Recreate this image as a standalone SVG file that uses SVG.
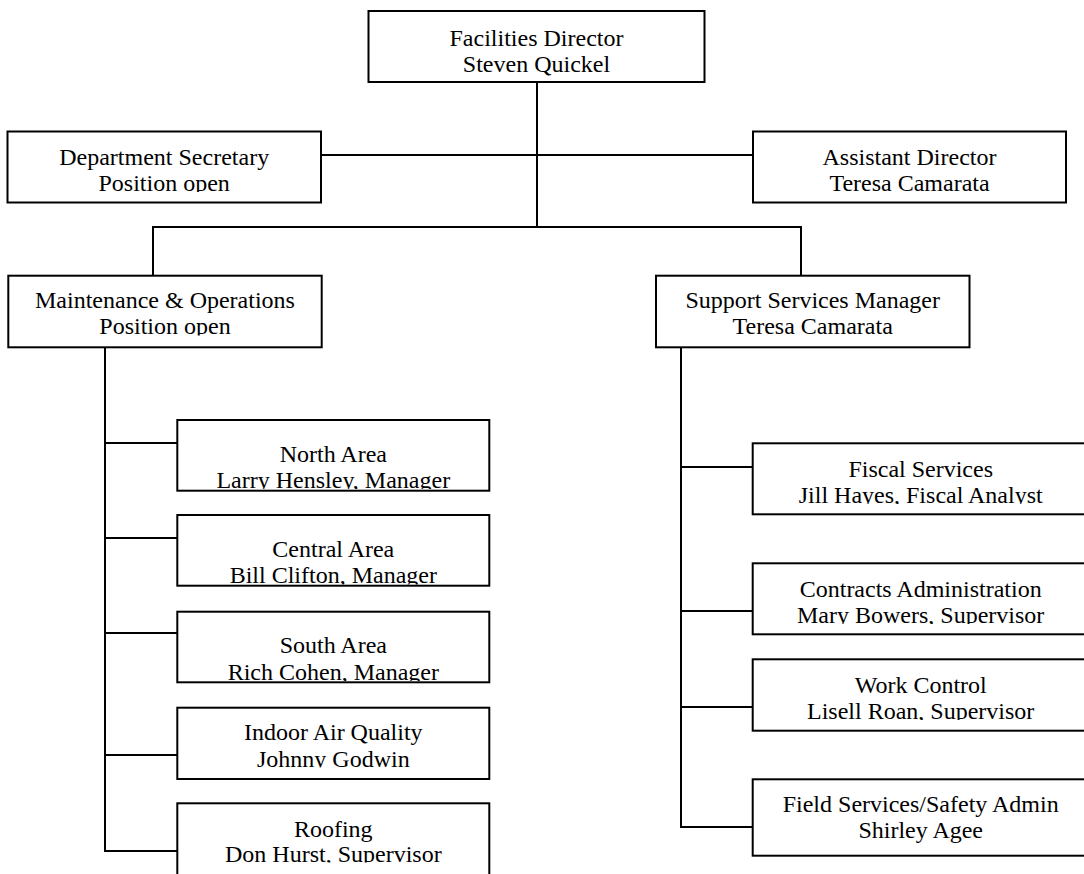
<svg xmlns="http://www.w3.org/2000/svg" width="1084" height="874" viewBox="0 0 1084 874">
<style>
.box{fill:#fff;stroke:#000;stroke-width:2}
.t{font-family:"Liberation Serif","Times New Roman",serif;font-size:24px;text-anchor:middle;fill:#000}
.c{stroke:#000;stroke-width:2;fill:none}
</style>
<defs>
<clipPath id="cp-dept"><rect x="8" y="132" width="312" height="60"/></clipPath>
<clipPath id="cp-maint"><rect x="9" y="276" width="312" height="59.5"/></clipPath>
<clipPath id="cp-north"><rect x="178" y="421" width="311" height="68"/></clipPath>
<clipPath id="cp-central"><rect x="178" y="516" width="311" height="68.5"/></clipPath>
<clipPath id="cp-south"><rect x="178" y="612" width="311" height="69"/></clipPath>
<clipPath id="cp-indoor"><rect x="178" y="708" width="311" height="59.5"/></clipPath>
<clipPath id="cp-roof"><rect x="178" y="804" width="311" height="58.5"/></clipPath>
<clipPath id="cp-fiscal"><rect x="753" y="444" width="336" height="60"/></clipPath>
<clipPath id="cp-contracts"><rect x="753" y="564" width="336" height="60"/></clipPath>
<clipPath id="cp-work"><rect x="753" y="660" width="336" height="60"/></clipPath>
</defs>
<rect width="1084" height="874" fill="#fff"/>
<g id="connectors">
<line class="c" x1="537" y1="82" x2="537" y2="227"/>
<line class="c" x1="321" y1="155" x2="753" y2="155"/>
<line class="c" x1="153" y1="227" x2="801" y2="227"/>
<line class="c" x1="153" y1="226" x2="153" y2="276"/>
<line class="c" x1="801" y1="226" x2="801" y2="276"/>
<polyline class="c" points="105,347 105,851 177,851"/>
<line class="c" x1="105" y1="443" x2="177" y2="443"/>
<line class="c" x1="105" y1="538" x2="177" y2="538"/>
<line class="c" x1="105" y1="633" x2="177" y2="633"/>
<line class="c" x1="105" y1="755" x2="177" y2="755"/>
<polyline class="c" points="681,347 681,827 753,827"/>
<line class="c" x1="681" y1="467" x2="753" y2="467"/>
<line class="c" x1="681" y1="611" x2="753" y2="611"/>
<line class="c" x1="681" y1="707" x2="753" y2="707"/>
</g>
<g id="director">
<rect class="box" x="368.5" y="11" width="336" height="71"/>
<text class="t" x="536.5" y="45.7">Facilities Director</text>
<text class="t" x="536.5" y="71.8">Steven Quickel</text>
</g>
<g id="secretary">
<rect class="box" x="7.5" y="131.5" width="313.5" height="71"/>
<g clip-path="url(#cp-dept)">
<text class="t" x="164.2" y="165">Department Secretary</text>
<text class="t" x="164.2" y="191.3">Position open</text>
</g>
</g>
<g id="assistant">
<rect class="box" x="753" y="131.5" width="313" height="71"/>
<text class="t" x="909.5" y="165">Assistant Director</text>
<text class="t" x="909.5" y="191.3">Teresa Camarata</text>
</g>
<g id="maintenance">
<rect class="box" x="8.3" y="275.7" width="313.4" height="71.6"/>
<g clip-path="url(#cp-maint)">
<text class="t" x="165" y="307.7">Maintenance &amp; Operations</text>
<text class="t" x="165" y="334.3">Position open</text>
</g>
</g>
<g id="support">
<rect class="box" x="656" y="275.7" width="313.5" height="71.6"/>
<text class="t" x="812.7" y="307.7">Support Services Manager</text>
<text class="t" x="812.7" y="334.3">Teresa Camarata</text>
</g>
<g id="north">
<rect class="box" x="177.3" y="420" width="312" height="70.7"/>
<g clip-path="url(#cp-north)">
<text class="t" x="333.3" y="461.7">North Area</text>
<text class="t" x="333.3" y="488.3">Larry Hensley, Manager</text>
</g>
</g>
<g id="central">
<rect class="box" x="177.3" y="515" width="312" height="70.7"/>
<g clip-path="url(#cp-central)">
<text class="t" x="333.3" y="556.7">Central Area</text>
<text class="t" x="333.3" y="583.3">Bill Clifton, Manager</text>
</g>
</g>
<g id="south">
<rect class="box" x="177.3" y="611.7" width="312" height="70.6"/>
<g clip-path="url(#cp-south)">
<text class="t" x="333.3" y="653.3">South Area</text>
<text class="t" x="333.3" y="680">Rich Cohen, Manager</text>
</g>
</g>
<g id="indoor">
<rect class="box" x="177.3" y="707.7" width="312" height="71.3"/>
<g clip-path="url(#cp-indoor)">
<text class="t" x="333.3" y="740">Indoor Air Quality</text>
<text class="t" x="333.3" y="766.7">Johnny Godwin</text>
</g>
</g>
<g id="roofing">
<rect class="box" x="177.3" y="803.3" width="312" height="90"/>
<g clip-path="url(#cp-roof)">
<text class="t" x="333.3" y="836.7">Roofing</text>
<text class="t" x="333.3" y="861.7">Don Hurst, Supervisor</text>
</g>
</g>
<g id="fiscal">
<rect class="box" x="752.7" y="443.3" width="336" height="71"/>
<g clip-path="url(#cp-fiscal)">
<text class="t" x="920.7" y="476.7">Fiscal Services</text>
<text class="t" x="920.7" y="503.3">Jill Hayes, Fiscal Analyst</text>
</g>
</g>
<g id="contracts">
<rect class="box" x="752.7" y="563.3" width="336" height="71"/>
<g clip-path="url(#cp-contracts)">
<text class="t" x="920.7" y="596.7">Contracts Administration</text>
<text class="t" x="920.7" y="623.3">Mary Bowers, Supervisor</text>
</g>
</g>
<g id="workcontrol">
<rect class="box" x="752.7" y="659.3" width="336" height="71.4"/>
<g clip-path="url(#cp-work)">
<text class="t" x="920.7" y="693.3">Work Control</text>
<text class="t" x="920.7" y="719.3">Lisell Roan, Supervisor</text>
</g>
</g>
<g id="fieldservices">
<rect class="box" x="752.7" y="779.3" width="336" height="76.4"/>
<text class="t" x="920.7" y="811.7">Field Services/Safety Admin</text>
<text class="t" x="920.7" y="838.3">Shirley Agee</text>
</g>
</svg>
